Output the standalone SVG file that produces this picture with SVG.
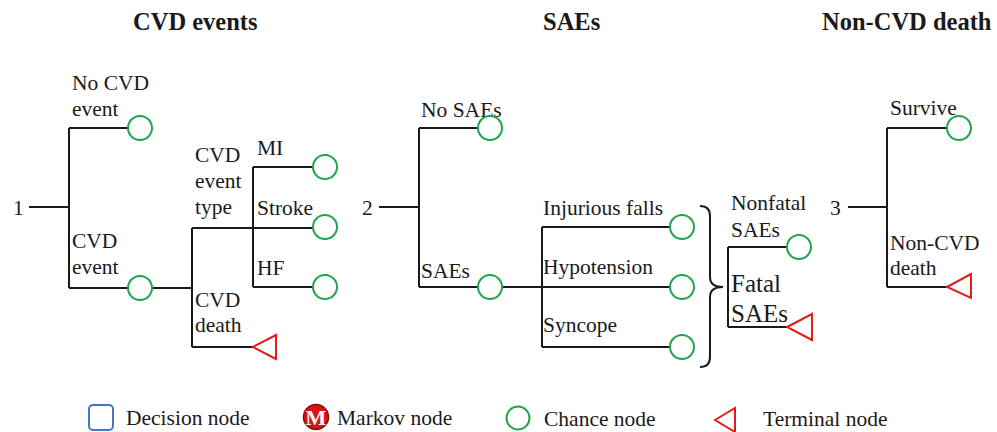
<svg xmlns="http://www.w3.org/2000/svg" width="997" height="432" viewBox="0 0 997 432">
<style>
text{font-family:"Liberation Serif","Times New Roman",serif;fill:#1a1a1a}
.t{font-size:21.5px}
.h{font-size:24.5px;font-weight:bold}
.big{font-size:25px}
.ln{stroke:#1a1a1a;stroke-width:2;fill:none}
.ch{fill:#fff;stroke:#1fa64a;stroke-width:2}
.tm{fill:#fff;stroke:#e31b1b;stroke-width:2;stroke-linejoin:miter}
</style>
<rect width="997" height="432" fill="#fff"/>
<g id="titles">
<text class="h" x="133" y="30">CVD events</text>
<text class="h" x="543" y="30">SAEs</text>
<text class="h" x="822" y="30">Non-CVD death</text>
</g>
<g id="connectors">
<path class="ln" d="M29,207H69M69,128V288M69,128H128M69,288H128M152,288H192M192,228V347M192,228H313M253,167V287M253,167H313M253,287H313M192,347H253"/>
<path class="ln" d="M379,207H419M419,128V287M419,128H478M419,287H478M502,287H670M542,227V347M542,227H670M542,347H670"/>
<path class="ln" d="M700,206Q710,206 710,216V277Q710,287 723,287Q710,287 710,297V357Q710,367 700,367"/>
<path class="ln" d="M728,247V327M728,247H787M728,327H787"/>
<path class="ln" d="M848,207H887M887,128V287M887,128H947M887,287H947"/>
</g>
<g id="start1"><text class="t" x="13" y="215">1</text></g>
<g id="start2"><text class="t" x="362" y="215">2</text></g>
<g id="start3"><text class="t" x="830" y="215">3</text></g>
<g id="no-cvd-event"><text class="t" x="72" y="90">No CVD</text><text class="t" x="72" y="116">event</text><circle class="ch" cx="140" cy="128" r="12"/></g>
<g id="cvd-event"><text class="t" x="72" y="248">CVD</text><text class="t" x="72" y="274">event</text><circle class="ch" cx="140" cy="288" r="12"/></g>
<g id="cvd-event-type"><text class="t" x="195" y="162">CVD</text><text class="t" x="195" y="188">event</text><text class="t" x="195" y="214">type</text></g>
<g id="mi"><text class="t" x="257" y="155">MI</text><circle class="ch" cx="325" cy="167" r="12"/></g>
<g id="stroke"><text class="t" x="257" y="215">Stroke</text><circle class="ch" cx="325" cy="227" r="12"/></g>
<g id="hf"><text class="t" x="257" y="275">HF</text><circle class="ch" cx="325" cy="287" r="12"/></g>
<g id="cvd-death"><text class="t" x="195" y="307">CVD</text><text class="t" x="195" y="332">death</text><polygon class="tm" points="253,347 276,335 276,359"/></g>
<g id="no-saes"><text class="t" x="421" y="117">No SAEs</text><circle class="ch" cx="490" cy="128" r="12"/></g>
<g id="saes"><text class="t" x="421" y="278">SAEs</text><circle class="ch" cx="490" cy="287" r="12"/></g>
<g id="injurious-falls"><text class="t" x="543" y="215">Injurious falls</text><circle class="ch" cx="682" cy="227" r="12"/></g>
<g id="hypotension"><text class="t" x="543" y="274">Hypotension</text><circle class="ch" cx="682" cy="287" r="12"/></g>
<g id="syncope"><text class="t" x="543" y="332">Syncope</text><circle class="ch" cx="682" cy="347" r="12"/></g>
<g id="nonfatal-saes"><text class="t" x="731" y="210">Nonfatal</text><text class="t" x="731" y="237">SAEs</text><circle class="ch" cx="799" cy="247" r="12"/></g>
<g id="fatal-saes"><text class="big" x="731" y="292">Fatal</text><text class="big" x="731" y="322">SAEs</text><polygon class="tm" points="787,327 812,314 812,340"/></g>
<g id="survive"><text class="t" x="890" y="115">Survive</text><circle class="ch" cx="959" cy="128" r="12"/></g>
<g id="non-cvd-death"><text class="t" x="890" y="250">Non-CVD</text><text class="t" x="890" y="275">death</text><polygon class="tm" points="947,287 971,274 971,298"/></g>
<g id="legend">
<g id="legend-decision"><rect x="89" y="405" width="24" height="25" rx="4" fill="#fff" stroke="#4a74c6" stroke-width="2"/><text class="t" x="126" y="425">Decision node</text></g>
<g id="legend-markov"><circle cx="316" cy="417" r="12.5" fill="#d91414" stroke="#8a0a0a" stroke-width="1.5"/><text x="316" y="425" text-anchor="middle" style="font-size:22px;font-weight:bold;fill:#fff">M</text><text class="t" x="337" y="425">Markov node</text></g>
<g id="legend-chance"><circle class="ch" cx="518" cy="418" r="11.5"/><text class="t" x="544" y="426">Chance node</text></g>
<g id="legend-terminal"><polygon class="tm" points="715,420 735,408 735,432"/><text class="t" x="763" y="426">Terminal node</text></g>
</g>
</svg>
